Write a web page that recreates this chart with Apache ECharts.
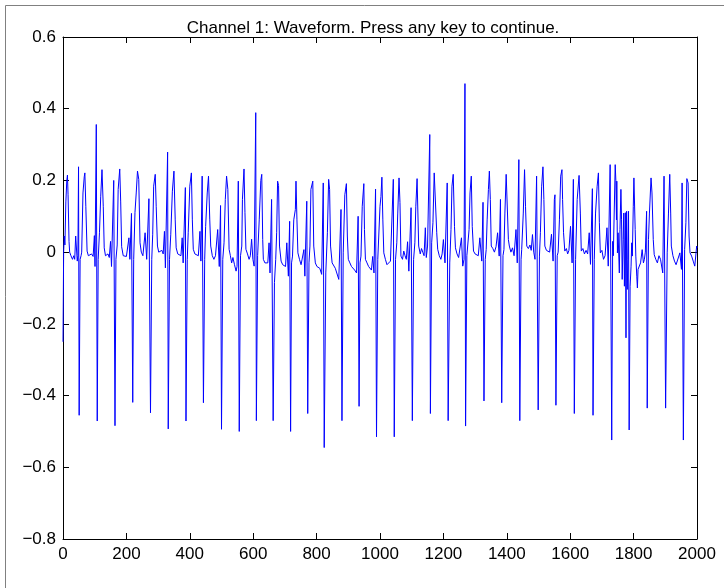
<!DOCTYPE html>
<html>
<head>
<meta charset="utf-8">
<script src="https://cdn.jsdelivr.net/npm/echarts@6/dist/echarts.min.js"></script>
<style>
html,body{margin:0;padding:0;background:#fff;}
#chart{width:724px;height:588px;}
</style>
</head>
<body>
<div id="chart"></div>
<script>
// Key points of the waveform [sample index, amplitude]
const wavePart1 = [[0,-0.25],[2,0.0],[4,0.045],[6,0.02],[9,0.14],[12,0.2],[14,0.215],[16,0.16],[19,0.03],[21,0.0],[25,-0.01],[30,-0.02],[34,-0.01],[37,-0.02],[40,0.045],[42,0.04],[45,-0.025],[47,-0.01],[49,0.238],[51,-0.455],[54,-0.02],[57,-0.01],[59,0.0],[63,0.165],[67,0.21],[69,0.221],[72,0.128],[76,0.003],[80,-0.01],[85,-0.015],[90,-0.005],[95,-0.012],[99,0.046],[101,-0.04],[105,0.356],[108,-0.471],[111,-0.02],[115,0.054],[119,0.156],[123,0.23],[127,0.128],[130,0.012],[134,-0.01],[138,-0.015],[142,-0.005],[146,-0.015],[150,0.03],[153,-0.04],[160,0.2],[164,-0.484],[167,-0.02],[171,0.02],[174,0.175],[179,0.232],[182,0.14],[185,0.015],[190,-0.01],[195,-0.005],[200,-0.012],[204,-0.008],[208,0.04],[211,-0.02],[216,0.108],[220,-0.419],[223,-0.02],[227,0.11],[231,0.165],[235,0.226],[239,0.203],[243,0.026],[247,0.0],[252,-0.01],[256,-0.005],[259,0.054],[264,-0.02],[271,0.149],[276,-0.448],[280,-0.02],[283,0.05],[286,0.184],[291,0.217],[294,0.128],[298,0.017],[302,0.0],[307,-0.005],[312,0.005],[316,-0.005],[320,0.058],[323,-0.044],[330,0.279],[332,-0.493],[336,-0.02],[340,0.05],[345,0.17],[350,0.226],[354,0.09],[357,0.012],[362,-0.005],[367,0.0],[372,-0.01],[376,0.04],[379,-0.03],[386,0.18],[388,-0.471],[392,-0.02],[395,0.054],[400,0.184],[405,0.221],[408,0.09],[411,0.008],[416,-0.005],[421,0.0],[427,-0.01],[432,0.058],[435,-0.025],[439,0.212],[443,-0.42],[447,-0.02],[450,0.072],[455,0.165],[459,0.212],[463,0.09],[466,0.017],[471,-0.01],[476,-0.02],[481,-0.01],[488,0.063],[493,-0.04],[497,0.13],[500,-0.494]];
const wavePart2 = [[504,-0.02],[508,0.026],[512,0.147],[516,0.212],[520,0.175],[524,0.008],[528,-0.01],[532,-0.03],[536,-0.015],[541,-0.035],[546,-0.053],[549,-0.04],[553,0.198],[556,-0.5],[560,-0.01],[564,0.017],[566,0.147],[571,0.232],[574,0.11],[577,0.008],[582,-0.005],[587,-0.02],[591,-0.01],[595,0.036],[599,-0.02],[603,-0.039],[608,0.389],[610,-0.47],[614,-0.01],[619,0.09],[624,0.2],[627,0.217],[630,0.035],[632,-0.02],[637,-0.03],[642,-0.035],[646,-0.03],[650,0.026],[653,-0.058],[658,0.147],[663,-0.47],[667,-0.085],[671,-0.02],[674,0.054],[677,0.198],[680,0.186],[683,0.017],[688,-0.025],[693,-0.035],[698,-0.03],[702,-0.04],[706,0.026],[711,-0.067],[715,0.086],[718,-0.5],[721,-0.03],[724,-0.011],[728,0.09],[733,0.119],[735,0.198],[738,0.09],[741,-0.002],[746,-0.02],[751,-0.035],[756,-0.03],[760,0.007],[763,-0.067],[769,0.142],[772,-0.45],[776,-0.03],[779,0.017],[782,0.175],[788,0.198],[791,0.017],[796,-0.03],[801,-0.04],[805,-0.039],[810,-0.045],[816,-0.062],[821,0.193],[824,-0.545],[829,-0.058],[834,0.054],[838,0.203],[841,0.175],[844,0.017],[849,-0.03],[854,-0.035],[859,-0.045],[864,-0.04],[870,-0.076],[877,0.119],[880,-0.47],[884,-0.002],[889,0.16],[894,0.191],[897,0.045],[900,-0.02],[905,-0.03],[910,-0.04],[915,-0.035],[920,-0.05],[926,-0.058],[931,0.1],[934,-0.43],[937,-0.03],[940,-0.011],[944,0.128],[949,0.191],[951,0.063],[954,-0.02],[959,-0.03],[964,-0.04],[969,-0.035],[973,-0.05],[977,-0.012],[981,-0.058],[986,0.176],[989,-0.515],[993,-0.02],[996,-0.02]];
const wavePart3 = [[1000,0.128],[1003,0.155],[1006,0.209],[1009,0.09],[1012,-0.002],[1017,-0.02],[1022,-0.035],[1028,-0.039],[1033,-0.025],[1037,-0.03],[1042,0.203],[1045,-0.515],[1049,-0.02],[1053,0.026],[1056,0.109],[1060,0.207],[1063,0.138],[1066,-0.011],[1071,-0.02],[1075,0.003],[1079,-0.01],[1083,-0.02],[1087,0.029],[1091,-0.053],[1098,0.124],[1102,-0.47],[1106,-0.02],[1110,0.026],[1113,0.128],[1117,0.205],[1120,0.203],[1122,0.017],[1127,-0.005],[1131,0.01],[1135,0.0],[1139,-0.01],[1143,0.068],[1146,-0.015],[1150,0.017],[1157,0.328],[1159,-0.45],[1163,0.026],[1167,0.082],[1171,0.221],[1176,0.217],[1179,0.054],[1182,0.008],[1187,-0.01],[1192,-0.02],[1196,-0.005],[1200,0.035],[1205,-0.03],[1212,0.193],[1215,-0.47],[1220,-0.03],[1224,0.063],[1227,0.184],[1231,0.217],[1235,0.072],[1238,0.012],[1243,-0.005],[1248,-0.015],[1253,-0.01],[1257,0.04],[1261,-0.039],[1265,-0.02],[1268,0.47],[1270,-0.485],[1274,-0.01],[1278,-0.005],[1281,0.063],[1284,0.165],[1288,0.212],[1291,0.072],[1295,0.003],[1300,-0.005],[1305,0.0],[1310,-0.01],[1315,0.04],[1321,-0.025],[1325,0.139],[1328,-0.415],[1332,-0.02],[1335,0.007],[1338,0.09],[1342,0.175],[1345,0.226],[1348,0.147],[1351,0.017],[1356,0.01],[1361,0.0],[1366,0.015],[1371,0.054],[1376,-0.011],[1380,0.147],[1384,-0.42],[1388,-0.01],[1391,0.007],[1394,0.109],[1398,0.217],[1401,0.212],[1405,0.035],[1408,0.017],[1413,0.0],[1418,0.012],[1423,-0.01],[1429,0.063],[1433,-0.03],[1438,0.258],[1441,-0.47],[1445,-0.02],[1447,0.007],[1452,0.109],[1456,0.23],[1459,0.128],[1463,0.017],[1468,0.01],[1473,0.02],[1477,0.005],[1481,0.049],[1485,0.0],[1489,-0.02],[1494,0.212],[1499,-0.44]];
const wavePart4 = [[1503,-0.011],[1506,0.054],[1510,0.184],[1514,0.238],[1517,0.147],[1520,0.017],[1525,0.005],[1530,0.01],[1535,0.0],[1541,0.05],[1546,-0.025],[1550,0.147],[1552,0.16],[1555,-0.427],[1559,-0.01],[1562,0.0],[1566,0.09],[1570,0.212],[1574,0.23],[1576,0.147],[1579,0.054],[1583,0.003],[1588,0.01],[1592,-0.005],[1596,0.005],[1601,0.072],[1606,-0.03],[1610,0.203],[1613,-0.45],[1617,-0.02],[1622,0.147],[1628,0.214],[1632,0.109],[1635,0.003],[1640,0.01],[1645,-0.005],[1650,0.005],[1655,-0.005],[1660,0.054],[1664,-0.034],[1670,0.177],[1672,-0.455],[1676,-0.02],[1680,0.109],[1685,0.184],[1689,0.221],[1692,0.082],[1695,-0.002],[1700,0.005],[1705,-0.02],[1710,-0.01],[1716,0.068],[1720,-0.039],[1726,0.244],[1731,-0.524],[1734,0.03],[1736,-0.01],[1742,0.244],[1744,0.2],[1746,0.09],[1747,0.198],[1749,-0.002],[1751,0.054],[1755,-0.058],[1757,0.063],[1760,0.175],[1762,0.09],[1764,-0.076],[1767,0.035],[1769,0.109],[1771,-0.095],[1774,0.11],[1776,-0.239],[1778,0.114],[1780,-0.104],[1782,-0.02],[1784,0.114],[1786,-0.496],[1789,-0.095],[1792,-0.039],[1794,0.026],[1796,-0.011],[1799,0.128],[1801,0.207],[1803,0.203],[1805,0.063],[1807,-0.011],[1810,-0.067],[1812,-0.1],[1814,-0.048],[1818,-0.053],[1822,-0.03],[1827,0.007],[1831,-0.03],[1834,-0.02],[1837,0.0],[1841,0.114],[1843,-0.435],[1847,0.035],[1850,0.109],[1855,0.207],[1858,0.165],[1862,0.035],[1865,-0.007],[1870,-0.02],[1875,-0.03],[1880,-0.01],[1885,-0.02],[1892,-0.058],[1896,0.212],[1901,-0.435],[1906,-0.002],[1910,0.109],[1914,0.217],[1917,0.109],[1919,0.017],[1924,-0.01],[1929,-0.025],[1934,-0.035],[1940,-0.03],[1946,-0.002],[1951,-0.048],[1953,0.193],[1957,-0.524],[1961,0.007],[1965,0.082],[1968,0.205],[1972,0.193],[1975,0.045],[1978,-0.002],[1983,-0.011],[1988,-0.025],[1993,-0.039],[1996,-0.034],[1999,0.017],[2000,0.012]];

const xTicks = [0, 200, 400, 600, 800, 1000, 1200, 1400, 1600, 1800, 2000];
const yTicks = [-0.8, -0.6, -0.4, -0.2, 0, 0.2, 0.4, 0.6];
const titleText = 'Channel 1: Waveform. Press any key to continue.';

const waveData = wavePart1.concat(wavePart2, wavePart3, wavePart4);

const FONT = '"Liberation Sans", Arial, Helvetica, sans-serif';
const chart = echarts.init(document.getElementById('chart'), null, {renderer: 'canvas'});

function fmtY(v) {
  const r = Math.round(v * 10) / 10;
  if (r === 0) return '0';
  return (r < 0 ? '\u2212' : '') + Math.abs(r).toFixed(1);
}
function fmtX(v) {
  return String(Math.round(v));
}

const axisCommon = {
  axisLine: {show: true, onZero: false, lineStyle: {color: '#000', width: 1}},
  axisTick: {show: true, inside: true, length: 6, lineStyle: {color: '#000', width: 1}},
  splitLine: {show: false}
};

chart.setOption({
  animation: false,
  backgroundColor: '#fff',
  title: {
    text: titleText,
    left: 368,
    top: 15,
    textAlign: 'center',
    textStyle: {fontFamily: FONT, fontSize: 17, fontWeight: 'normal', color: '#000'}
  },
  grid: {left: 63, right: 27, top: 37, bottom: 49, containLabel: false},
  xAxis: [
    Object.assign({
      type: 'value', position: 'bottom',
      min: xTicks[0], max: xTicks[xTicks.length - 1], interval: xTicks[1] - xTicks[0],
      axisLabel: {show: true, margin: 7, color: '#000', fontFamily: FONT, fontSize: 17, formatter: fmtX}
    }, axisCommon),
    Object.assign({
      type: 'value', position: 'top',
      min: xTicks[0], max: xTicks[xTicks.length - 1], interval: xTicks[1] - xTicks[0],
      axisLabel: {show: false}
    }, axisCommon)
  ],
  yAxis: [
    Object.assign({
      type: 'value', position: 'left',
      min: yTicks[0], max: yTicks[yTicks.length - 1], interval: 0.2,
      axisLabel: {show: true, margin: 7, color: '#000', fontFamily: FONT, fontSize: 17, formatter: fmtY}
    }, axisCommon),
    Object.assign({
      type: 'value', position: 'right',
      min: yTicks[0], max: yTicks[yTicks.length - 1], interval: 0.2,
      axisLabel: {show: false}
    }, axisCommon)
  ],
  series: [{
    type: 'line',
    xAxisIndex: 0,
    yAxisIndex: 0,
    data: waveData,
    showSymbol: false,
    symbol: 'none',
    smooth: false,
    lineStyle: {color: '#0000ff', width: 1},
    clip: true
  }],
  graphic: [
    {type: 'line', silent: true, shape: {x1: 5.5, y1: 5.5, x2: 5.5, y2: 588}, style: {stroke: '#808080', lineWidth: 1}},
    {type: 'line', silent: true, shape: {x1: 5.5, y1: 5.5, x2: 724, y2: 5.5}, style: {stroke: '#808080', lineWidth: 1}}
  ]
});
</script>
</body>
</html>
